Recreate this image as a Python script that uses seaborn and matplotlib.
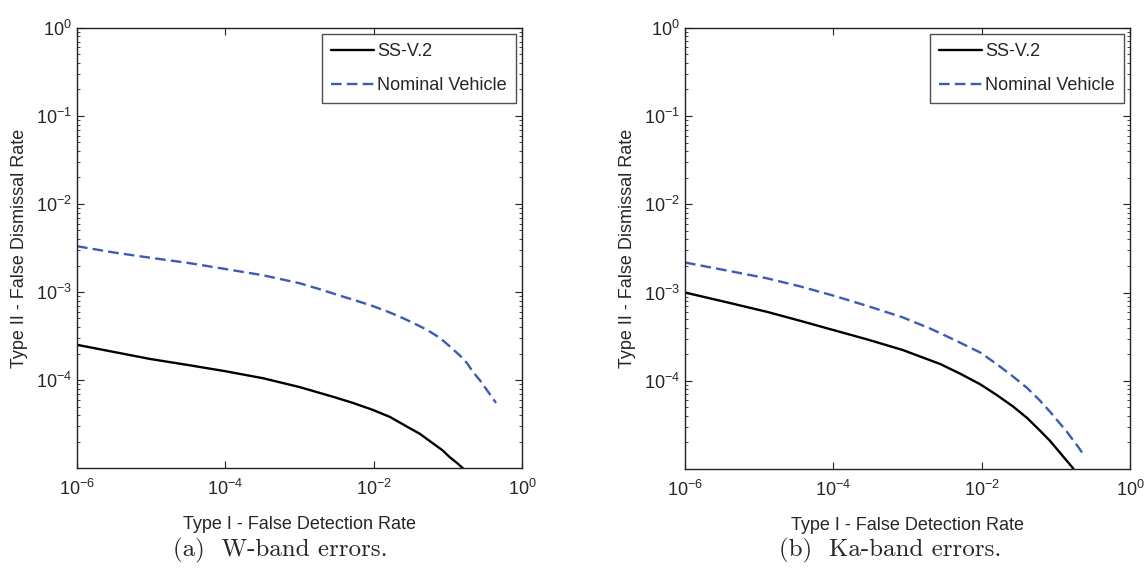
import numpy as np
import pandas as pd
import matplotlib
matplotlib.use("Agg")
import matplotlib.pyplot as plt
import seaborn as sns
from matplotlib.ticker import LogLocator, FixedLocator, NullFormatter

sns.set_theme(style="ticks")
plt.rcParams['font.family'] = ['Liberation Sans', 'DejaVu Sans']
plt.rcParams['mathtext.fontset'] = 'custom'
plt.rcParams['mathtext.rm'] = 'Liberation Sans'
plt.rcParams['mathtext.it'] = 'Liberation Sans'

# log10 values
# (a) W-band
w_ss_x = [-6.0, -5.51, -5.02, -4.50, -4.0, -3.49, -3.0, -2.55, -2.28, -2.01, -1.78,
          -1.55, -1.38, -1.20, -1.07, -0.97, -0.88, -0.80, -0.70]
w_ss_y = [-3.60, -3.68, -3.76, -3.83, -3.90, -3.98, -4.08, -4.19, -4.26, -4.34, -4.42,
          -4.53, -4.61, -4.72, -4.80, -4.88, -4.94, -5.00, -5.12]
w_nom_x = [-6.0, -5.51, -5.02, -4.50, -3.99, -3.49, -3.0, -2.72, -2.46, -2.23, -2.01,
           -1.82, -1.65, -1.47, -1.28, -1.11, -0.97, -0.84, -0.74, -0.66, -0.57, -0.46, -0.35]
w_nom_y = [-2.48, -2.55, -2.61, -2.67, -2.74, -2.81, -2.90, -2.97, -3.04, -3.10, -3.16,
           -3.22, -3.28, -3.35, -3.43, -3.52, -3.62, -3.72, -3.81, -3.91, -4.00, -4.13, -4.26]
# (b) Ka-band
ka_ss_x = [-6.0, -5.44, -4.89, -4.45, -3.98, -3.55, -3.07, -2.56, -2.29, -2.02,
           -1.80, -1.58, -1.39, -1.22, -1.08, -0.95, -0.85, -0.77, -0.70]
ka_ss_y = [-3.00, -3.11, -3.22, -3.32, -3.43, -3.53, -3.65, -3.81, -3.92, -4.04,
           -4.16, -4.29, -4.42, -4.56, -4.68, -4.81, -4.91, -4.99, -5.10]
ka_nom_x = [-6.0, -5.44, -4.89, -4.45, -3.98, -3.55, -3.07, -2.69, -2.36, -2.02, -1.80,
            -1.58, -1.39, -1.22, -1.08, -0.95, -0.85, -0.77, -0.69, -0.61]
ka_nom_y = [-2.66, -2.75, -2.84, -2.93, -3.04, -3.15, -3.28, -3.41, -3.54, -3.68, -3.81,
            -3.95, -4.08, -4.22, -4.35, -4.48, -4.58, -4.67, -4.76, -4.86]

panels = [
    ("(a)  W-band errors.", w_ss_x, w_ss_y, w_nom_x, w_nom_y),
    ("(b)  Ka-band errors.", ka_ss_x, ka_ss_y, ka_nom_x, ka_nom_y),
]

BLUE = "#3a5cb4"

fig = plt.figure(figsize=(11.44, 5.73), dpi=100)
axes_pos = [[0.0673, 0.1832, 0.389, 0.768], [0.5988, 0.1815, 0.389, 0.770]]
caption_x = [0.245, 0.778]

for pos, cx, (caption, sx, sy, nx, ny) in zip(axes_pos, caption_x, panels):
    ax = fig.add_axes(pos)
    ss = pd.DataFrame({'x': 10.0 ** np.array(sx), 'y': 10.0 ** np.array(sy)})
    nom = pd.DataFrame({'x': 10.0 ** np.array(nx), 'y': 10.0 ** np.array(ny)})
    sns.lineplot(data=ss, x='x', y='y', ax=ax, color='black', lw=1.7,
                 label='SS-V.2', sort=False, estimator=None)
    sns.lineplot(data=nom, x='x', y='y', ax=ax, color=BLUE, lw=1.7,
                 label='Nominal Vehicle', sort=False, estimator=None)
    ax.lines[1].set_dashes([4.5, 2.2])

    ax.set_xscale('log')
    ax.set_yscale('log')
    ax.set_xlim(1e-6, 1e0)
    ax.set_ylim(1e-5, 1e0)

    ax.xaxis.set_major_locator(FixedLocator([1e-6, 1e-4, 1e-2, 1e0]))
    ax.xaxis.set_minor_locator(FixedLocator([]))
    ax.set_xticklabels([r'$10^{-6}$', r'$10^{-4}$', r'$10^{-2}$', r'$10^{0}$'])
    ax.yaxis.set_major_locator(FixedLocator([1e-4, 1e-3, 1e-2, 1e-1, 1e0]))
    ax.set_yticklabels([r'$10^{-4}$', r'$10^{-3}$', r'$10^{-2}$', r'$10^{-1}$', r'$10^{0}$'])
    ax.yaxis.set_minor_locator(LogLocator(base=10, subs=np.arange(2, 10), numticks=20))
    ax.yaxis.set_minor_formatter(NullFormatter())

    ax.tick_params(which='both', direction='in', top=True, right=True,
                   labelsize=13, color='#222222')
    ax.tick_params(which='major', length=5, width=0.8)
    ax.tick_params(which='minor', length=2.5, width=0.6)
    ax.tick_params(axis='x', pad=8)
    for sp in ax.spines.values():
        sp.set_linewidth(1.0)
        sp.set_color('#222222')

    ax.set_xlabel('Type I - False Detection Rate', fontsize=13, labelpad=12)
    ax.set_ylabel('Type II - False Dismissal Rate', fontsize=13, labelpad=6)

    leg = ax.legend(loc='upper right', fontsize=13, frameon=True, fancybox=False,
                    edgecolor='#222222', handlelength=2.4, handletextpad=0.15,
                    borderaxespad=0.35, borderpad=0.5, labelspacing=0.95)
    leg.get_frame().set_linewidth(1.0)

    fig.text(cx, 1 - 550 / 573, caption, ha='center', va='center',
             fontsize=18, family=['cmr10', 'DejaVu Serif'])

fig.savefig('out.png', dpi=100)
